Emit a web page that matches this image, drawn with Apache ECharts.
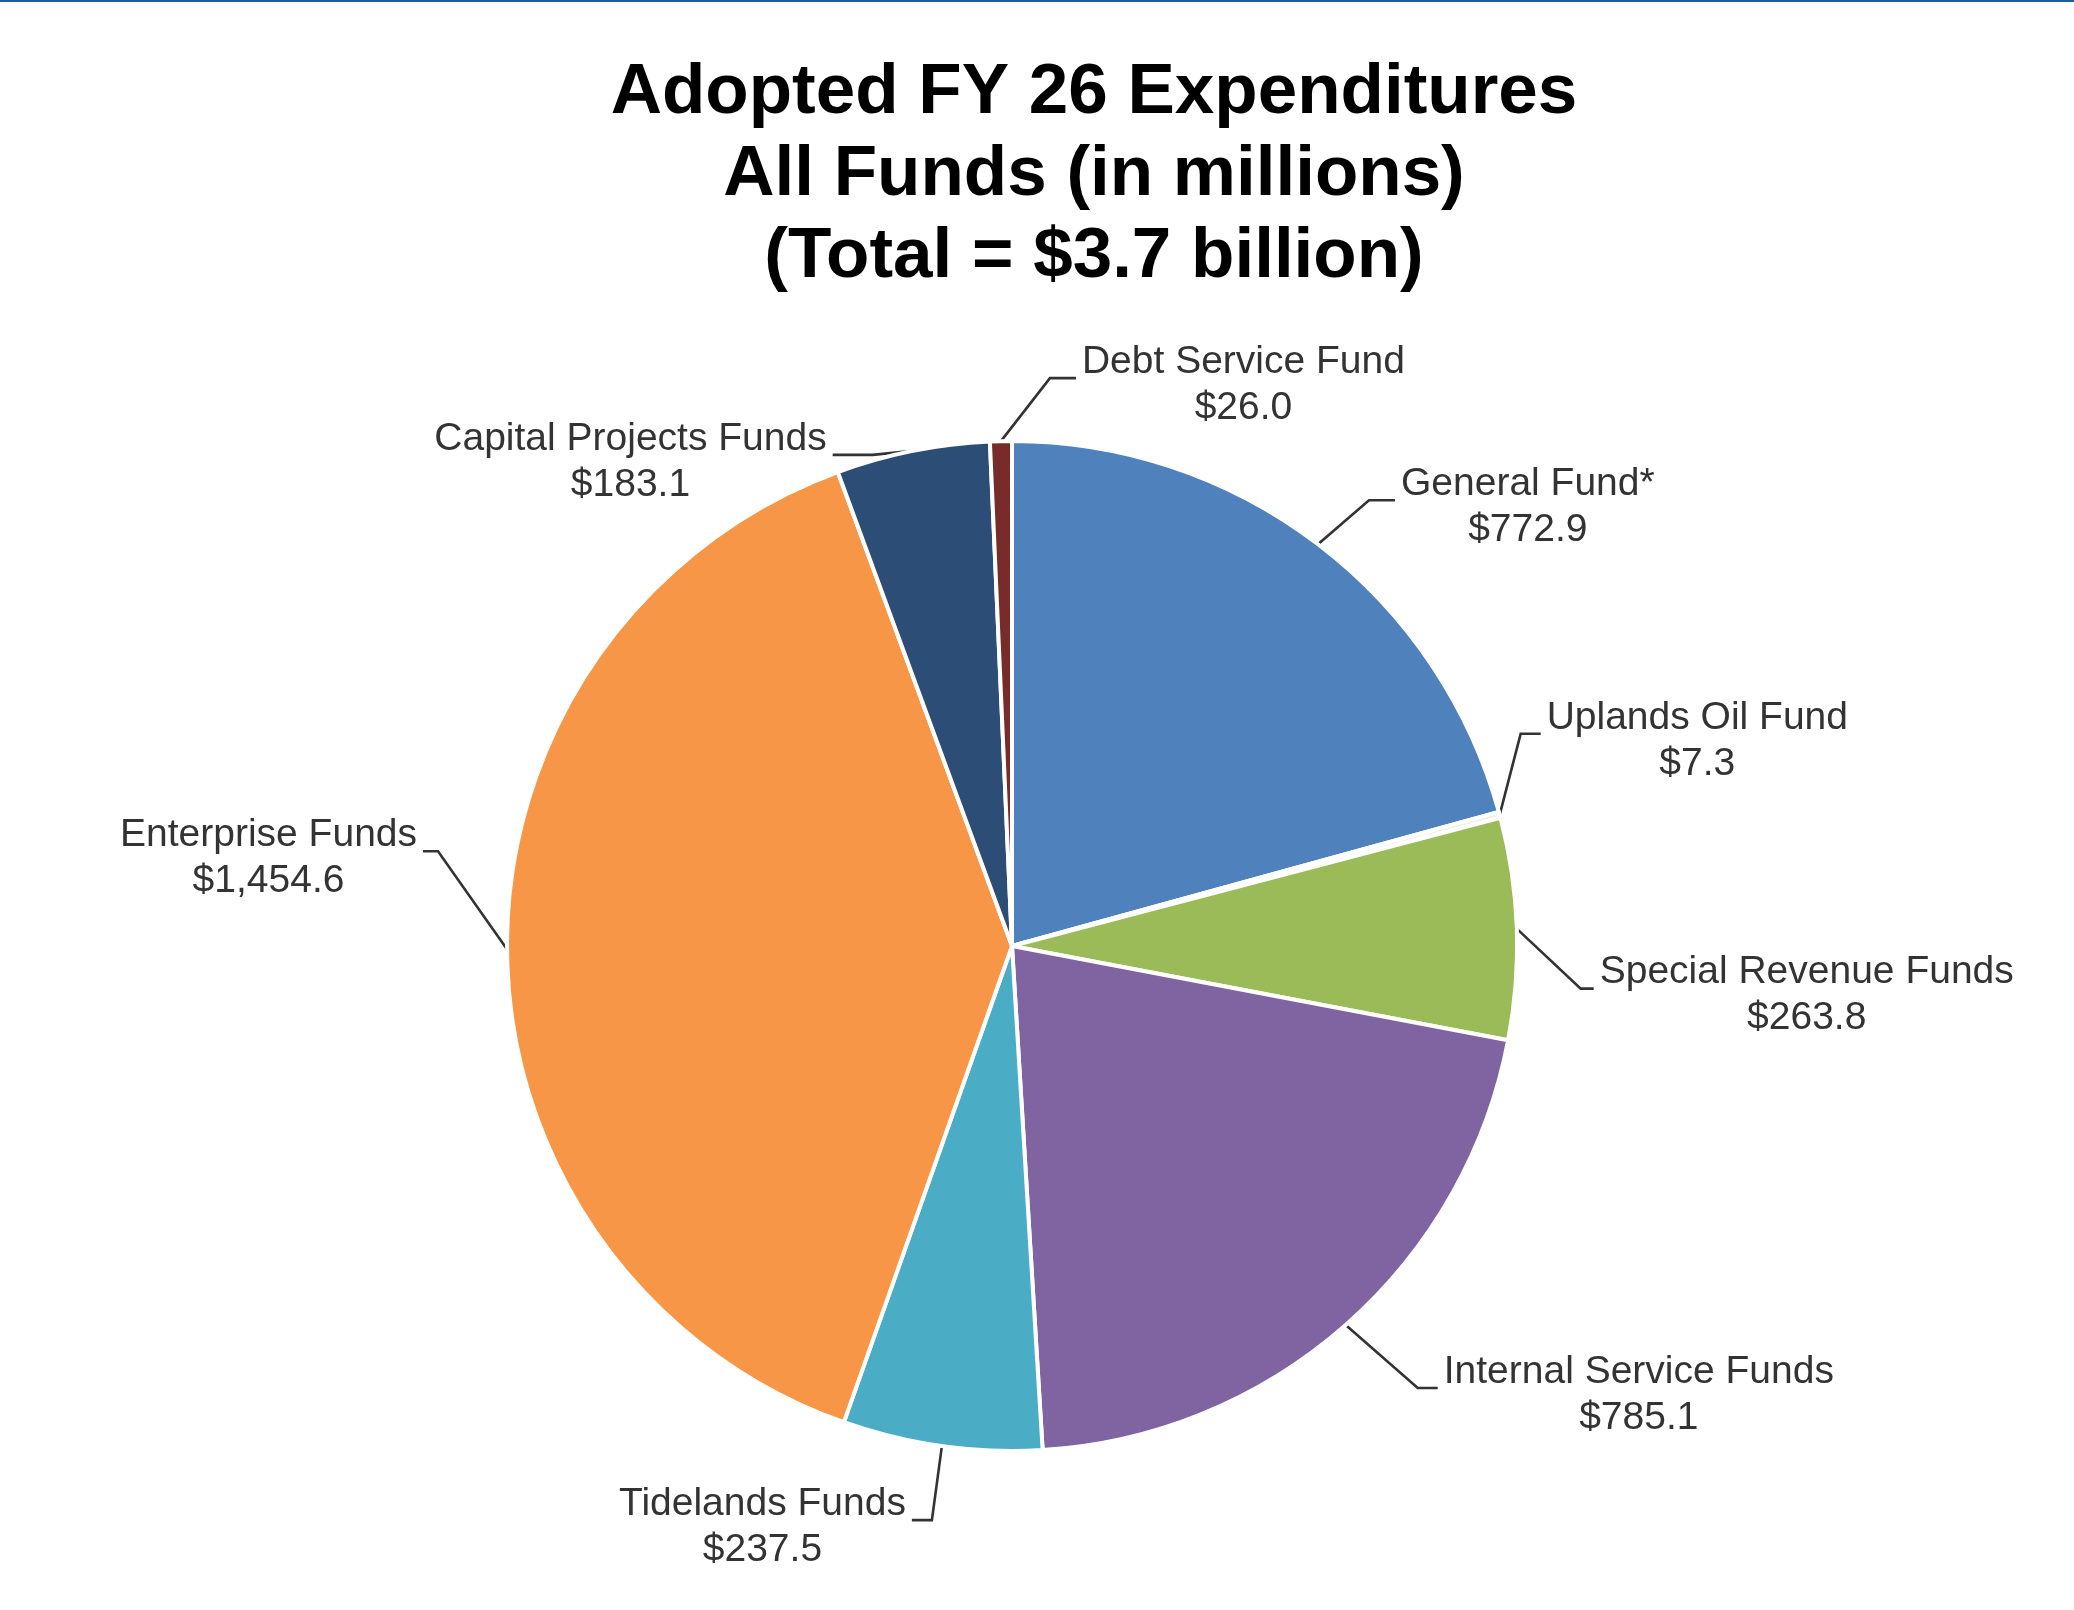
<!DOCTYPE html>
<html>
<head>
<meta charset="utf-8">
<title>Adopted FY 26 Expenditures - All Funds</title>
<script src="https://cdn.jsdelivr.net/npm/echarts@6/dist/echarts.min.js"></script>
<style>
  html, body { margin: 0; padding: 0; background: #ffffff; }
  #chart { width: 2074px; height: 1610px; }
</style>
</head>
<body>
<div id="chart"></div>
<script>
// Fund categories, clockwise from 12 o'clock
const categories = [
  'General Fund*',
  'Uplands Oil Fund',
  'Special Revenue Funds',
  'Internal Service Funds',
  'Tidelands Funds',
  'Enterprise Funds',
  'Capital Projects Funds',
  'Debt Service Fund'
];

// Adopted expenditures, in millions of dollars
const expenditures = [772.9, 7.3, 263.8, 785.1, 237.5, 1454.6, 183.1, 26.0];

// Slice colours
const sliceColors = ['#4f81bd', '#eef3e4', '#9bbb59', '#8064a2', '#4bacc6', '#f79646', '#2c4d75', '#772c2a'];

// Leader-line shape per slice: elbow offset from the slice edge point,
// length of the horizontal run and which side the label sits on
const leaderShape = [
  { dx: 51,  dy: -44, run: 26, side: 1 },
  { dx: 21,  dy: -81, run: 20, side: 1 },
  { dx: 64,  dy: 60,  run: 13, side: 1 },
  { dx: 72,  dy: 63,  run: 20, side: 1 },
  { dx: -10, dy: 74,  run: 20, side: -1 },
  { dx: -69, dy: -98, run: 15, side: -1 },
  { dx: -40, dy: 4,   run: 40, side: -1 },
  { dx: 49,  dy: -63, run: 26, side: 1 }
];

const fmtMoney = v => '$' + v.toLocaleString('en-US', { minimumFractionDigits: 1, maximumFractionDigits: 1 });

const chart = echarts.init(document.getElementById('chart'), null, { renderer: 'canvas' });

const pieData = categories.map((name, i) => ({
  name: name,
  value: expenditures[i],
  itemStyle: { color: sliceColors[i] }
}));

chart.setOption({
  backgroundColor: '#ffffff',
  animation: false,
  graphic: [{
    type: 'rect',
    left: 0,
    top: 0,
    shape: { width: 2074, height: 2 },
    style: { fill: '#1b5e96' }
  }],
  title: {
    text: 'Adopted FY 26 Expenditures\nAll Funds (in millions)\n(Total = $3.7 billion)',
    left: 1094,
    top: 52,
    padding: 0,
    textAlign: 'center',
    textStyle: {
      fontFamily: 'Liberation Sans, Arial, sans-serif',
      fontSize: 71,
      fontWeight: 'bold',
      lineHeight: 82,
      color: '#000000'
    }
  },
  series: [{
    type: 'pie',
    center: [1012, 946],
    radius: 505,
    startAngle: 90,
    clockwise: true,
    avoidLabelOverlap: false,
    silent: true,
    data: pieData,
    itemStyle: { borderColor: '#ffffff', borderWidth: 4 },
    label: {
      show: true,
      position: 'outside',
      formatter: p => p.name + '\n' + fmtMoney(p.value),
      fontFamily: 'Liberation Sans, Arial, sans-serif',
      fontSize: 39,
      lineHeight: 46,
      color: '#333333'
    },
    labelLine: {
      show: true,
      length: 30,
      length2: 20,
      lineStyle: { color: '#333333', width: 2.6 }
    },
    labelLayout: function (params) {
      const g = leaderShape[params.dataIndex];
      const pts = params.labelLinePoints;
      if (!g || !pts) return {};
      const p0 = [pts[0][0], pts[0][1]];
      const elbow = [p0[0] + g.dx, p0[1] + g.dy];
      const end = [elbow[0] + g.side * g.run, elbow[1]];
      const w = params.labelRect.width;
      return {
        x: end[0] + g.side * (6 + w / 2),
        y: end[1] + 7,
        align: 'center',
        verticalAlign: 'middle',
        labelLinePoints: [p0, elbow, end]
      };
    }
  }]
});
</script>
</body>
</html>
